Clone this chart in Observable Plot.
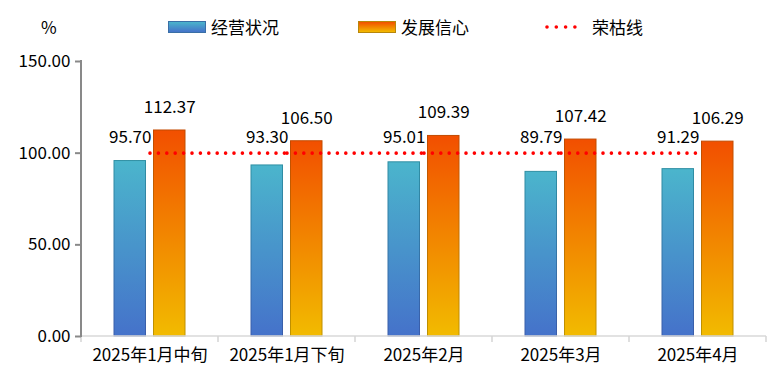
<!DOCTYPE html>
<html>
<head>
<meta charset="utf-8">
<script src="https://cdn.jsdelivr.net/npm/d3@7"></script>
<script src="https://cdn.jsdelivr.net/npm/@observablehq/plot@0.6"></script>
<style>
  html, body { margin: 0; padding: 0; background: #fff; }
  body { font-family: "Noto Sans CJK SC", "Noto Sans", sans-serif; color: #000; }
  #legend { position: relative; width: 784px; height: 45px; font-size: 17px; }
  #legend .lab { position: absolute; line-height: 1; white-space: nowrap; }
  .sw { position: absolute; box-sizing: border-box; width: 38px; height: 12px; }
</style>
</head>
<body>
<div id="legend"></div>
<div id="chart"></div>
<script>
const categories = ["2025年1月中旬", "2025年1月下旬", "2025年2月", "2025年3月", "2025年4月"];
const businessStatus = [95.70, 93.30, 95.01, 89.79, 91.29];   // 经营状况
const developmentConfidence = [112.37, 106.50, 109.39, 107.42, 106.29]; // 发展信心
const boomBustLine = 100; // 荣枯线
const yTicks = [0, 50, 100, 150];
const seriesNames = ["经营状况", "发展信心", "荣枯线"];
const unitLabel = "%";

const W = 784, H = 334, ML = 81, MR = 18, MT = 16, MB = 43;
const bw = (W - ML - MR) / categories.length;
const barW = 31.5, gap = 8;
const innerOff = (gap + barW) / 2; // centre offset of each bar from band centre
const blueInL = bw / 2 - innerOff - barW / 2, blueInR = bw - blueInL - barW;

const blueData = categories.map((c, i) => ({cat: c, v: businessStatus[i]}));
const orangeData = categories.map((c, i) => ({cat: c, v: developmentConfidence[i]}));
const segs = categories.slice(0, -1).map((c, i) => ({a: c, b: categories[i + 1], v: boomBustLine}));

// legend
const legend = d3.select("#legend");
legend.append("div").attr("class", "lab").style("left", "41px").style("top", "18px").text(unitLabel);
legend.append("div").attr("class", "sw").style("left", "168px").style("top", "21px")
  .style("background", "linear-gradient(#4bb4cc, #4573c9)").style("border", "1px solid #3a6fa6");
legend.append("div").attr("class", "lab").style("left", "211px").style("top", "18px").text(seriesNames[0]);
legend.append("div").attr("class", "sw").style("left", "358px").style("top", "21px")
  .style("background", "linear-gradient(#f25000, #f2ba00)").style("border", "1px solid #b8860b");
legend.append("div").attr("class", "lab").style("left", "401px").style("top", "18px").text(seriesNames[1]);
legend.append("div").attr("class", "lab").style("left", "592px").style("top", "18px").text(seriesNames[2]);
legend.append("svg").attr("width", 42).attr("height", 10).style("position", "absolute")
  .style("left", "544px").style("top", "22px")
  .append("line").attr("x1", 3).attr("x2", 40).attr("y1", 5).attr("y2", 5)
  .attr("stroke", "#ff0000").attr("stroke-width", 3.6).attr("stroke-linecap", "round")
  .attr("stroke-dasharray", "0,9.3");

function defs() {
  const d = d3.create("svg:defs");
  d.html(`
    <linearGradient id="gBlue" x1="0" y1="0" x2="0" y2="1">
      <stop offset="0" stop-color="#4bb5cc"/><stop offset="1" stop-color="#4572ca"/>
    </linearGradient>
    <linearGradient id="gBlueS" x1="0" y1="0" x2="0" y2="1">
      <stop offset="0" stop-color="#2f8fa3"/><stop offset="1" stop-color="#3a5cab"/>
    </linearGradient>
    <linearGradient id="gOrange" x1="0" y1="0" x2="0" y2="1">
      <stop offset="0" stop-color="#f24f00"/><stop offset="1" stop-color="#f2bb00"/>
    </linearGradient>
    <linearGradient id="gOrangeS" x1="0" y1="0" x2="0" y2="1">
      <stop offset="0" stop-color="#c24a00"/><stop offset="1" stop-color="#bf9400"/>
    </linearGradient>`);
  return d.node();
}

function frameLines(index, scales, values, dims) {
  const g = d3.create("svg:g");
  const y0 = scales.y(0), y1 = scales.y(yTicks[yTicks.length - 1]);
  const left = dims.marginLeft, right = dims.width - dims.marginRight;
  const step = (right - left) / categories.length;
  g.append("line").attr("x1", left).attr("x2", right).attr("y1", y0).attr("y2", y0)
    .attr("stroke", "#d9d9d9").attr("stroke-width", 1.5);
  d3.range(categories.length + 1).forEach(i => {
    const x = left + i * step;
    g.append("line").attr("x1", x).attr("x2", x).attr("y1", y0).attr("y2", y0 + 6)
      .attr("stroke", "#d4d4d4").attr("stroke-width", 1.5);
  });
  g.append("line").attr("x1", left).attr("x2", left).attr("y1", y1 - 1).attr("y2", y0 + 1)
    .attr("stroke", "#898989").attr("stroke-width", 2);
  return g.node();
}

const chart = Plot.plot({
  width: W, height: H,
  marginLeft: ML, marginRight: MR, marginTop: MT, marginBottom: MB,
  style: {fontFamily: "'Noto Sans CJK SC', 'Noto Sans', sans-serif", fontSize: "17px", color: "#000", background: "#fff"},
  x: {type: "band", domain: categories, padding: 0, axis: null},
  y: {domain: [0, 150], axis: null},
  marks: [
    defs,
    Plot.barY(blueData, {x: "cat", y: "v", fill: "url(#gBlue)", stroke: "url(#gBlueS)", strokeWidth: 1,
      insetLeft: blueInL, insetRight: blueInR}),
    Plot.barY(orangeData, {x: "cat", y: "v", fill: "url(#gOrange)", stroke: "url(#gOrangeS)", strokeWidth: 1,
      insetLeft: blueInR, insetRight: blueInL}),
    frameLines,
    Plot.link(segs, {x1: "a", x2: "b", y1: "v", y2: "v", stroke: "#ff0000", strokeWidth: 3.6,
      strokeLinecap: "round", strokeDasharray: "0,8.4"}),
    Plot.text(blueData, {x: "cat", y: d => Math.max(d.v, boomBustLine), text: d => d.v.toFixed(2),
      dx: -innerOff, dy: -15.5, fill: "#000", fontSize: 17}),
    Plot.text(orangeData, {x: "cat", y: "v", text: d => d.v.toFixed(2),
      dx: innerOff, dy: -23, fill: "#000", fontSize: 17}),
    Plot.axisY({ticks: yTicks, tickFormat: d => d.toFixed(2), tickSize: 6, tickPadding: 5, label: null,
      stroke: "#898989", strokeWidth: 2, fill: "#000", fontSize: 17}),
    Plot.axisX({tickSize: 0, tickPadding: 12, label: null, fill: "#000", fontSize: 17})
  ]
});
document.getElementById("chart").appendChild(chart);
</script>
</body>
</html>
